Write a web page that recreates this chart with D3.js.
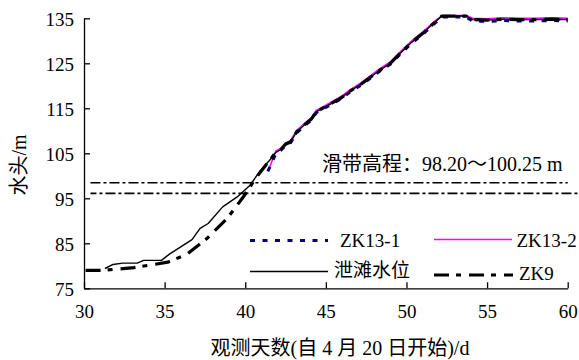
<!DOCTYPE html>
<html><head><meta charset="utf-8">
<script src="https://cdn.jsdelivr.net/npm/d3@7"></script>
<style>
html,body{margin:0;padding:0;background:#fff;}
svg{display:block;}
</style></head>
<body>
<svg id="c" width="579" height="360"></svg>
<script>
// ---- data ----
const xTicks = [30, 35, 40, 45, 50, 55, 60];
const yTicks = [75, 85, 95, 105, 115, 125, 135];
const seriesNames = ["ZK13-1", "ZK13-2", "泄滩水位", "ZK9"];
const zk13_1Day = [41.4,41.9,42.2,42.5,42.8,43.2,43.7,44.1,44.4,44.7,45.3,45.9,46.5,47.2,47.8,48.4,49.0,49.6,50.3,51.0,51.6,52.2,53.7,54.1,55,56,57,58,59,60];
const zk13_1Val = [101.0,104.9,105.6,106.8,107.3,109.6,111.2,112.4,114.0,114.6,115.8,117.0,118.6,120.2,121.8,123.4,124.8,127.0,129.4,131.4,133.4,135.3,135.3,134.4,134.3,134.5,134.4,134.4,134.5,134.4];
const zk13_2Day = [41.5,41.9,42.2,42.5,42.8,43.2,43.7,44.1,44.4,44.7,45.3,45.9,46.5,47.2,47.8,48.4,49.0,49.6,50.3,51.0,51.6,52.2,53.7,54.1,55,56,57,58,59,60];
const zk13_2Val = [101.8,105.5,106.1,107.3,107.8,110.1,111.7,112.9,114.5,115.1,116.3,117.5,119.1,120.7,122.3,123.9,125.3,127.5,129.9,131.9,133.9,135.6,135.6,135.0,134.9,135.1,135.0,135.0,135.1,135.0];
const xtDay = [31.3,31.8,32.4,33.3,33.7,34.8,35.3,36.0,36.7,37.2,37.7,38.6,39.5,40.3,40.9,41.5,41.9,42.2,42.5,42.8,43.2,43.7,44.1,44.4,44.7,45.3,45.9,46.5,47.2,47.8,48.4,49.0,49.6,50.3,51.0,51.6,52.2,53.7,54.1,55,56,57,58,59,60];
const xtVal = [79.4,80.3,80.6,80.6,81.2,81.2,82.6,84.2,85.8,88.3,89.4,93.1,95.3,97.9,101.0,103.4,105.2,105.8,107.0,107.5,109.8,111.4,112.6,114.2,114.8,116.0,117.2,118.8,120.4,122.0,123.6,125.0,127.2,129.6,131.6,133.6,135.5,135.5,134.7,134.6,134.8,134.7,134.7,134.8,134.7];
const zk9Day = [30.1,31.2,33.1,35.2,36.4,37.6,38.9,39.9,40.7,41.5,41.9,42.2,42.5,42.8,43.2,43.7,44.1,44.4,44.7,45.3,45.9,46.5,47.2,47.8,48.4,49.0,49.6,50.3,51.0,51.6,52.2,53.7,54.1,55,56,57,58,59,60];
const zk9Val = [79.0,79.0,79.6,80.8,82.6,86.0,90.6,95.4,99.7,103.4,105.2,105.8,107.0,107.5,109.8,111.4,112.6,114.2,114.8,116.0,117.2,118.8,120.4,122.0,123.6,125.0,127.2,129.6,131.6,133.6,135.5,135.5,134.7,134.6,134.8,134.7,134.7,134.8,134.7];
const refLevels = [98.45, 96.1];
const refStartDay = 30.4;
const refEndDays = [60, 60.7];
const annotation = "滑带高程：98.20～100.25 m";
const xTitle = "观测天数(自 4 月 20 日开始)/d";
const yTitle = "水头/m";

const SERIF = '"Liberation Serif", "DejaVu Serif", "Noto Sans CJK SC", serif';

// ---- drawing ----
const svg = d3.select("#c");
const x = d3.scaleLinear().domain([30, 60]).range([84, 567.7]);
const y = d3.scaleLinear().domain([75, 135]).range([288.3, 18.3]);

const styles = {
  "ZK13-1": {stroke: "#000080", width: 3, dash: "5,7.5"},
  "ZK13-2": {stroke: "#ff00ff", width: 1.6, dash: null},
  "泄滩水位": {stroke: "#000", width: 1.4, dash: null},
  "ZK9": {stroke: "#000", width: 3.2, dash: "15,7,5,8"}
};

refLevels.forEach((v, i) => {
  svg.append("line")
    .attr("x1", x(refStartDay)).attr("x2", x(refEndDays[i]))
    .attr("y1", y(v)).attr("y2", y(v))
    .attr("stroke", "#000").attr("stroke-width", 1.6)
    .attr("stroke-dasharray", "10,3,3,3")
    .attr("stroke-dashoffset", i === 0 ? 0 : 4);
});

const line = d3.line().x(d => x(d[0])).y(d => y(d[1]));
const data = {
  "ZK13-1": d3.zip(zk13_1Day, zk13_1Val),
  "ZK13-2": d3.zip(zk13_2Day, zk13_2Val),
  "泄滩水位": d3.zip(xtDay, xtVal),
  "ZK9": d3.zip(zk9Day, zk9Val)
};
["ZK13-2", "ZK13-1", "泄滩水位", "ZK9"].forEach(n => {
  const s = styles[n];
  const p = svg.append("path").datum(data[n])
    .attr("d", line).attr("fill", "none")
    .attr("stroke", s.stroke).attr("stroke-width", s.width)
    .attr("stroke-linejoin", "round");
  if (s.dash) p.attr("stroke-dasharray", s.dash);
});

const xAxis = svg.append("g").attr("transform", "translate(0,288.3)")
  .call(d3.axisBottom(x).tickValues(xTicks).tickSizeInner(-6).tickSizeOuter(0).tickPadding(16));
const yAxis = svg.append("g").attr("transform", "translate(84,0)")
  .call(d3.axisLeft(y).tickValues(yTicks).tickSizeInner(-6).tickSizeOuter(0).tickPadding(10));
[xAxis, yAxis].forEach(g => {
  g.attr("font-family", null).attr("font-size", null);
  g.select(".domain").attr("stroke", "#000").attr("stroke-width", 1.3);
  g.selectAll(".tick line").attr("stroke", "#000").attr("stroke-width", 1.3);
  g.selectAll(".tick text").attr("font-family", SERIF).attr("font-size", 19).attr("fill", "#000");
});
yAxis.selectAll(".tick text").attr("dy", "0.36em");
xAxis.selectAll(".tick text").attr("dy", "0.72em");

svg.append("text").attr("font-family", SERIF).attr("font-size", 20)
  .attr("x", 322).attr("y", 171).text(annotation);

const leg = [
  {name: "ZK13-1", x1: 250, x2: 328, ly: 240.5, tx: 340, ty: 246.5},
  {name: "ZK13-2", x1: 434, x2: 512, ly: 239.5, tx: 516.5, ty: 246.5},
  {name: "泄滩水位", x1: 250, x2: 328, ly: 271.5, tx: 334, ty: 277},
  {name: "ZK9", x1: 434, x2: 513, ly: 275, tx: 519, ty: 280}
];
leg.forEach(l => {
  const s = styles[l.name];
  const ln = svg.append("line").attr("x1", l.x1).attr("x2", l.x2)
    .attr("y1", l.ly).attr("y2", l.ly)
    .attr("stroke", s.stroke).attr("stroke-width", s.width);
  if (s.dash) ln.attr("stroke-dasharray", s.dash);
  svg.append("text").attr("font-family", SERIF).attr("font-size", 19)
    .attr("x", l.tx).attr("y", l.ty).text(l.name);
});

svg.append("text").attr("font-family", SERIF).attr("font-size", 20)
  .attr("x", 340).attr("y", 355).attr("text-anchor", "middle").text(xTitle);
svg.append("text").attr("font-family", SERIF).attr("font-size", 20)
  .attr("transform", "translate(26,165) rotate(-90)")
  .attr("text-anchor", "middle").text(yTitle);
</script>
</body></html>
